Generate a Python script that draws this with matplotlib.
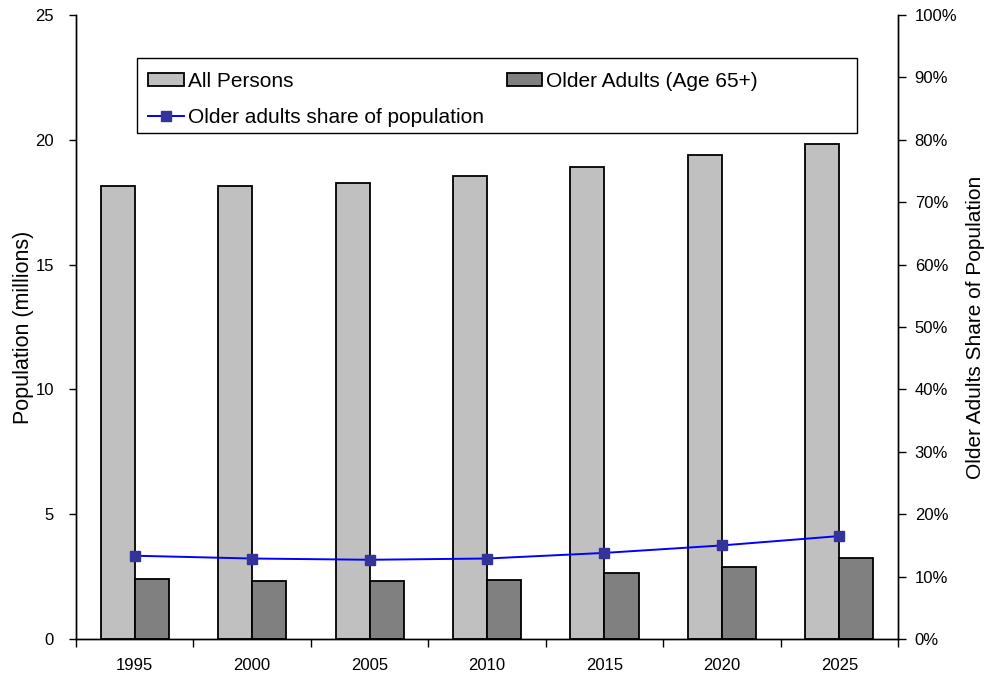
import matplotlib
matplotlib.use("Agg")
import matplotlib.pyplot as plt
from matplotlib.patches import Rectangle
import numpy as np

plt.rcParams['font.family'] = ['Liberation Sans', 'DejaVu Sans']

years = ["1995", "2000", "2005", "2010", "2015", "2020", "2025"]
all_persons = [18.13, 18.16, 18.27, 18.56, 18.93, 19.39, 19.84]   # millions
older_adults = [2.40, 2.34, 2.31, 2.38, 2.63, 2.90, 3.26]         # millions, age 65+
older_share = [13.35, 12.9, 12.7, 12.9, 13.8, 15.0, 16.5]         # percent

fig = plt.figure(figsize=(9.85, 6.75), dpi=100)
ax = fig.add_axes([0.0772, 0.0533, 0.8345, 0.9245])
ax2 = ax.twinx()

x = np.arange(len(years))
w = 0.29
b1 = ax.bar(x - w / 2, all_persons, w, color="#C0C0C0", edgecolor="black",
            linewidth=1.3, label="All Persons")
b2 = ax.bar(x + w / 2, older_adults, w, color="#808080", edgecolor="black",
            linewidth=1.3, label="Older Adults (Age 65+)")
ln, = ax2.plot(x, older_share, color="#0000FF", linewidth=1.4, marker="s",
               markersize=7.5, markerfacecolor="#333399", markeredgecolor="#333399",
               label="Older adults share of population")

ax.set_xlim(-0.5, len(years) - 0.5)
ax.set_ylim(0, 25)
ax.set_yticks(np.arange(0, 26, 5))
ax2.set_ylim(0, 100)
ax2.set_yticks(np.arange(0, 101, 10))
ax2.set_yticklabels([f"{v}%" for v in range(0, 101, 10)])

ax.set_xticks(x)
ax.set_xticklabels(years)
ax.set_xticks(np.arange(-0.5, len(years), 1), minor=True)
ax.tick_params(axis="x", which="major", length=0, pad=14, labelsize=12)
ax.tick_params(axis="x", which="minor", length=6, direction="out", width=1)
ax.tick_params(axis="y", length=5, width=1, labelsize=12, pad=11)
ax2.tick_params(axis="y", length=6, width=1, labelsize=12, pad=6)

for a in (ax, ax2):
    a.spines["top"].set_visible(False)
    for s in ("left", "right", "bottom"):
        a.spines[s].set_linewidth(1.0)

ax.set_ylabel("Population (millions)", fontsize=15.5, labelpad=1)
ax2.set_ylabel("Older Adults Share of Population", fontsize=15, labelpad=6)

# legend box drawn separately so its width is independent of the entries
box = Rectangle((0.0742, 0.811), 0.8758, 0.12, transform=ax2.transAxes,
                facecolor="white", edgecolor="black", linewidth=1.0, zorder=4)
ax2.add_patch(box)
leg = ax2.legend([b1, ln, b2],
                 ["All Persons", "Older adults share of population", "Older Adults (Age 65+)"],
                 ncol=2, loc="upper left", bbox_to_anchor=(0.088, 0.909),
                 fontsize=15, frameon=False, borderaxespad=0, borderpad=0,
                 handlelength=1.7, handleheight=0.65, handletextpad=0.2,
                 labelspacing=0.85, columnspacing=1.1)
leg.set_zorder(5)

fig.savefig("out.png", dpi=100)
